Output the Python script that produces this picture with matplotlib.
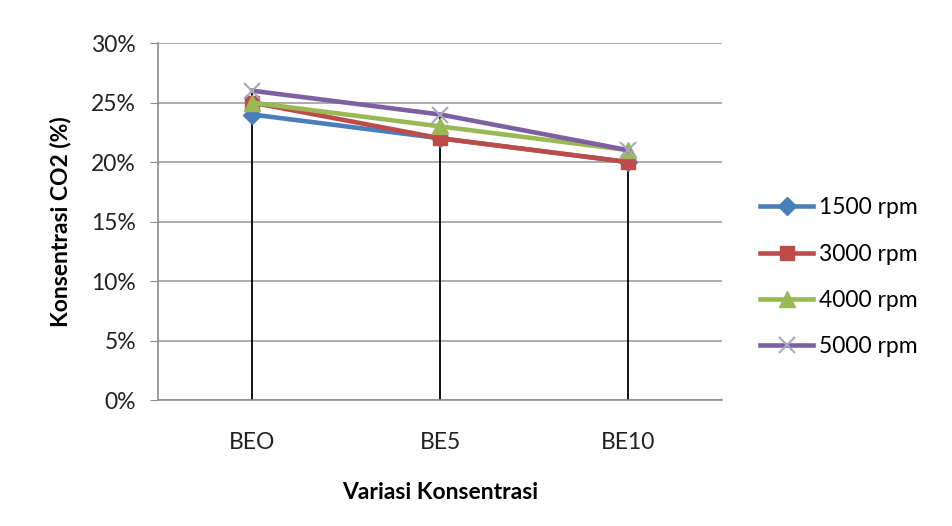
import matplotlib
matplotlib.use("Agg")
import matplotlib.pyplot as plt
from matplotlib.ticker import FuncFormatter

categories = ["BEO", "BE5", "BE10"]
series_names = ["1500 rpm", "3000 rpm", "4000 rpm", "5000 rpm"]
v1500 = [24, 22, 20]
v3000 = [25, 22, 20]
v4000 = [25, 23, 21]
v5000 = [26, 24, 21]
yticks = [0, 5, 10, 15, 20, 25, 30]

plt.rcParams['font.family'] = ['Lato', 'DejaVu Sans']

fig = plt.figure(figsize=(9.53, 5.26), dpi=100)
ax = fig.add_axes([0.166, 0.2395, 0.592, 0.6785])

x = list(range(len(categories)))
allv = [v1500, v3000, v4000, v5000]
tops = [max(vals) for vals in zip(*allv)]
ax.vlines(x, 0, tops, colors='black', linewidth=1.3, zorder=2)

styles = [
    dict(color='#4A7EBB', marker='D', ms=9, mec='#4A7EBB', mfc='#4A7EBB'),
    dict(color='#BE4B48', marker='s', ms=10.5, mec='#BE4B48', mfc='#BE4B48'),
    dict(color='#98B954', marker='^', ms=11, mec='#98B954', mfc='#98B954'),
    dict(color='#7D60A0', marker='x', ms=11, mec='#A8A8C0', mfc='none', mew=1.5),
]
for name, vals, st in zip(series_names, allv, styles):
    ax.plot(x, vals, linewidth=3.3, label=name, zorder=3, **st)

ax.set_xlim(-0.5, 2.5)
ax.set_ylim(0, 30)
ax.set_yticks(yticks)
ax.yaxis.set_major_formatter(FuncFormatter(lambda v, p: f"{int(v)}%"))
ax.set_xticks(x)
ax.set_xticklabels(categories)
ax.grid(axis='y', color='#A6A6A6', linewidth=1.3, zorder=0)
ax.set_axisbelow(True)
for s in ['top', 'right']:
    ax.spines[s].set_visible(False)
for s in ['left', 'bottom']:
    ax.spines[s].set_color('#8C8C8C')
    ax.spines[s].set_linewidth(1.2)
ax.tick_params(axis='y', length=6, color='#8C8C8C', labelsize=16.5, pad=10, labelcolor='#222222')
ax.tick_params(axis='x', length=0, labelsize=16.5, pad=23, labelcolor='#222222')

ax.set_ylabel("Konsentrasi CO2 (%)", fontsize=16.5, fontweight='bold', labelpad=14)
ax.set_xlabel("Variasi Konsentrasi", fontsize=16.5, fontweight='bold', labelpad=21)

leg = fig.legend(loc='center left', bbox_to_anchor=(0.776, 0.473), frameon=False,
                 fontsize=16.5, labelspacing=1.1, handlelength=2.3, handletextpad=0.25)
fig.savefig("out.png", dpi=100)
